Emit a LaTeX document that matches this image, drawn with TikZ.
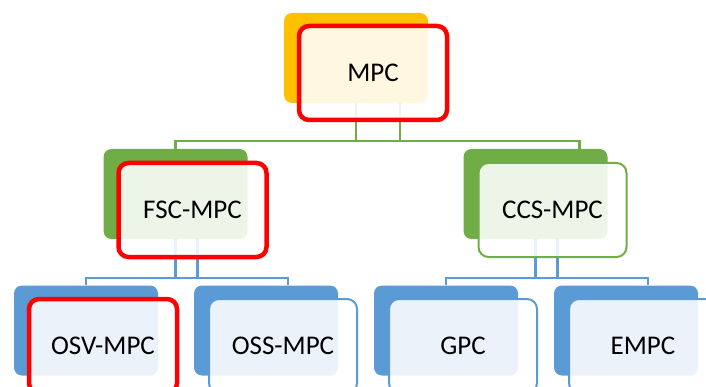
\documentclass[tikz,border=0pt]{standalone}
\usepackage{fontspec}
\setmainfont{Carlito}
\usetikzlibrary{positioning,calc}
\definecolor{mpcOrange}{HTML}{FFC000}
\definecolor{mpcGreen}{HTML}{70AD47}
\definecolor{mpcBlue}{HTML}{5B9BD5}
\definecolor{mpcRed}{HTML}{FF0000}
\tikzset{
	backbox/.style={rectangle, rounded corners=8pt, minimum width=144pt, minimum height=90pt, inner sep=0pt, fill=#1},
	frontbox/.style={rectangle, rounded corners=10pt, minimum width=148pt, minimum height=94pt, inner sep=0pt, draw=#1, line width=2pt, fill=white, fill opacity=0.88, text opacity=1, font=\fontsize{27}{31}\selectfont},
	marked/.style={draw=mpcRed, line width=4.5pt},
	link/.style={draw=#1, line width=2.2pt}
}
\begin{document}
\begin{tikzpicture}[x=1pt, y=-1pt]
			\clip (0,0) rectangle (706,387);

			\node[backbox=mpcOrange]	(mpcB)	at (356,58)	{};
			\node[backbox=mpcGreen]	(fscB)	at (175.5,194)	{};
			\node[backbox=mpcGreen]	(ccsB)	at (535.5,194)	{};
			\node[backbox=mpcBlue]	(osvB)	at (86,330.5)	{};
			\node[backbox=mpcBlue]	(ossB)	at (266,330.5)	{};
			\node[backbox=mpcBlue]	(gpcB)	at (446,330.5)	{};
			\node[backbox=mpcBlue]	(empcB)	at (626,330.5)	{};

			\draw[link=mpcGreen]	(mpcB.south) -- ++(0,38);
			\draw[link=mpcGreen]	([xshift=44pt]mpcB.south) -- ++(0,38);
			\draw[link=mpcGreen]	(fscB.north) -- ++(0,-8) -| ([xshift=44pt]ccsB.north);

			\draw[link=mpcBlue]	(fscB.south) -- ++(0,39);
			\draw[link=mpcBlue]	([xshift=22pt]fscB.south) -- ++(0,39);
			\draw[link=mpcBlue]	(osvB.north) -- ++(0,-7) -| ([xshift=22pt]ossB.north);

			\draw[link=mpcBlue]	(ccsB.south) -- ++(0,39);
			\draw[link=mpcBlue]	([xshift=22pt]ccsB.south) -- ++(0,39);
			\draw[link=mpcBlue]	(gpcB.north) -- ++(0,-7) -| ([xshift=22pt]empcB.north);

			\node[frontbox=mpcOrange, marked]	(mpc)	at ([shift={(17pt,-15pt)}]mpcB)	{MPC};
			\node[frontbox=mpcGreen, marked]	(fsc)	at ([shift={(17pt,-16pt)}]fscB)	{FSC-MPC};
			\node[frontbox=mpcGreen]	(ccs)	at ([shift={(17pt,-16pt)}]ccsB)	{CCS-MPC};
			\node[frontbox=mpcBlue, marked]	(osv)	at ([shift={(17pt,-15.5pt)}]osvB)	{OSV-MPC};
			\node[frontbox=mpcBlue]	(oss)	at ([shift={(17pt,-15.5pt)}]ossB)	{OSS-MPC};
			\node[frontbox=mpcBlue]	(gpc)	at ([shift={(17pt,-15.5pt)}]gpcB)	{GPC};
			\node[frontbox=mpcBlue]	(empc)	at ([shift={(17pt,-15.5pt)}]empcB)	{EMPC};
		\end{tikzpicture}
\end{document}
